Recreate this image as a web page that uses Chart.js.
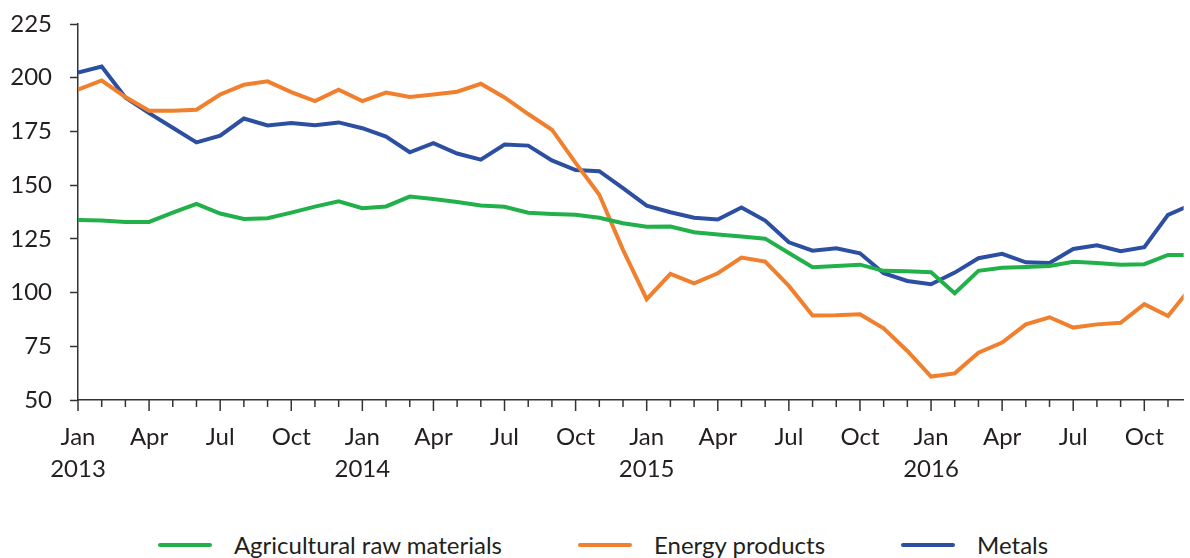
<!DOCTYPE html>
<html>
<head>
<meta charset="utf-8">
<script src="https://cdn.jsdelivr.net/npm/chart.js@4/dist/chart.umd.min.js"></script>
<style>
  body { margin: 0; background: #fff; font-family: Lato, sans-serif; }
  #wrap { position: relative; width: 1190px; height: 558px; overflow: hidden; }
  #box { position: absolute; left: 0; top: 0; width: 1190px; height: 500px; }
  #legend { position: absolute; left: 16px; right: 0; top: 532px; display: flex; justify-content: center;
            font-size: 24px; line-height: 26px; color: #231f20; }
  #legend .item { display: flex; align-items: center; margin: 0 38px; }
  #legend .swatch { width: 54px; height: 4px; border-radius: 2px; margin-right: 22px; }
</style>
</head>
<body>
<div id="wrap">
  <div id="box"><canvas id="priceChart"></canvas></div>
  <div id="legend"></div>
</div>
<script>
// monthly index, Jan 2013 .. Dec 2016
const years = ['2013', '2014', '2015', '2016'];
const quarterLabels = ['Jan', 'Apr', 'Jul', 'Oct'];

const agricultural = [133.8, 133.5, 132.8, 132.9, 137.2, 141.3, 136.8, 134.3, 134.6, 137.2, 140.0, 142.5,
                      139.3, 140.1, 144.7, 143.5, 142.2, 140.5, 139.9, 137.2, 136.6, 136.2, 134.8, 132.3,
                      130.6, 130.7, 128.1, 127.0, 126.1, 125.1, 118.4, 111.8, 112.4, 113.0, 110.1, 109.9,
                      109.5, 99.7, 110.1, 111.6, 111.9, 112.4, 114.3, 113.8, 113.0, 113.2, 117.5, 117.5];
const energy = [194.4, 198.7, 191.0, 184.6, 184.6, 185.1, 192.2, 196.7, 198.3, 193.3, 189.1, 194.4,
                189.1, 193.1, 191.0, 192.2, 193.5, 197.2, 190.8, 183.1, 175.8, 160.4, 145.5, 119.9,
                96.9, 108.7, 104.3, 109.0, 116.3, 114.4, 103.1, 89.3, 89.4, 89.9, 83.4, 72.8,
                60.9, 62.4, 72.0, 76.7, 85.2, 88.5, 83.7, 85.2, 85.9, 94.6, 89.1, 102.8];
const metals = [202.4, 205.2, 190.8, 183.5, 176.7, 169.9, 173.0, 181.0, 177.8, 178.9, 177.9, 179.2,
                176.5, 172.6, 165.3, 169.5, 164.7, 161.9, 168.9, 168.4, 161.5, 157.0, 156.5, 148.6,
                140.5, 137.4, 134.8, 134.0, 139.6, 133.5, 123.4, 119.5, 120.6, 118.3, 109.0, 105.4,
                103.9, 109.3, 116.0, 118.0, 114.1, 113.8, 120.3, 122.0, 119.3, 121.1, 136.2, 141.0];

const axisColor = '#333333';
const textColor = '#231f20';
const lastVisibleMonth = 46.66; // the picture is cut a little before Dec 2016

const toPoints = arr => arr.map((v, i) => ({ x: i, y: v }));

// short ticks every month, longer ones on quarters
const monthTicks = {
    id: 'monthTicks',
    afterDraw(chart) {
        const xs = chart.scales.x;
        const ctx = chart.ctx;
        const y0 = chart.chartArea.bottom;
        ctx.save();
        ctx.strokeStyle = axisColor;
        ctx.lineWidth = 1.5;
        xs.ticks.forEach(t => {
            const px = xs.getPixelForValue(t.value);
            const len = t.value % 3 === 0 ? 11 : 7;
            ctx.beginPath();
            ctx.moveTo(px, y0);
            ctx.lineTo(px, y0 + len);
            ctx.stroke();
        });
        ctx.restore();
    }
};

const datasets = [
    { label: 'Agricultural raw materials', data: toPoints(agricultural), borderColor: '#22b04b' },
    { label: 'Energy products', data: toPoints(energy), borderColor: '#f0802e' },
    { label: 'Metals', data: toPoints(metals), borderColor: '#2d4fa2' }
];

const chart = new Chart(document.getElementById('priceChart'), {
    type: 'line',
    data: { datasets: datasets.map(d => ({ ...d, borderWidth: 4, pointRadius: 0, tension: 0, fill: false })) },
    options: {
        responsive: true, maintainAspectRatio: false, animation: false,
        layout: { padding: { top: 24, left: 0, right: 0, bottom: 0 } },
        plugins: { legend: { display: false }, tooltip: { enabled: false } },
        scales: {
            x: {
                type: 'linear', min: 0, max: lastVisibleMonth,
                afterBuildTicks: s => { s.ticks = agricultural.map((v, i) => ({ value: i })).filter(t => t.value <= lastVisibleMonth); },
                afterFit: s => { s.height = 100; },
                grid: { display: false, drawTicks: false },
                border: { display: true, color: axisColor, width: 1.5 },
                ticks: {
                    autoSkip: false, maxRotation: 0, padding: 22, color: textColor,
                    font: { family: 'Lato', size: 24, lineHeight: 1.3 },
                    callback: v => {
                        if (v % 3 !== 0) return '';
                        const m = quarterLabels[(v % 12) / 3];
                        return v % 12 === 0 ? [m, years[v / 12]] : m;
                    }
                }
            },
            y: {
                min: 50, max: 225,
                afterFit: s => { s.width = 78; s.paddingTop = 0; s.paddingBottom = 0; },
                grid: { drawOnChartArea: false, tickLength: 8, tickColor: axisColor, tickWidth: 1.5 },
                border: { display: true, color: axisColor, width: 1.5 },
                ticks: { stepSize: 25, padding: 18, color: textColor, font: { family: 'Lato', size: 24 } }
            }
        }
    },
    plugins: [monthTicks]
});

// legend below the chart
const legend = document.getElementById('legend');
datasets.forEach(d => {
    const item = document.createElement('div');
    item.className = 'item';
    item.innerHTML = `<span class="swatch" style="background:${d.borderColor}"></span><span>${d.label}</span>`;
    legend.appendChild(item);
});
</script>
</body>
</html>
